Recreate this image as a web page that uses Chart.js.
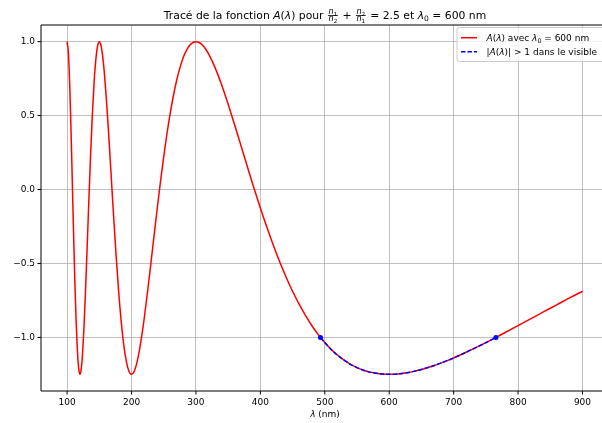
<!DOCTYPE html>
<html lang="fr">
<head>
    <meta charset="UTF-8">
    <title>Tracé de la fonction A(λ)</title>
    <script src="https://cdn.jsdelivr.net/npm/chart.js"></script>
    <style>
        html, body {
            margin: 0;
            padding: 0;
            background: #fff;
            overflow: hidden;
        }
        .frame {
            width: 602px;
            height: 423px;
            position: relative;
        }
    </style>
</head>
<body>
    <div class="frame">
        <canvas id="chart"></canvas>
    </div>
    <script>
        // wavelength (nm) and A(lambda)
        const lambdaAll = [100, 102, 104, 106, 108, 110, 112, 114, 116, 118, 120, 122, 124, 126, 128, 130,
            133, 136, 139, 142, 145, 148, 150, 152, 155, 158, 161, 164, 167, 170, 173, 176,
            180, 184, 188, 192, 196, 200, 204, 208, 212, 216, 220,
            225, 230, 235, 240, 245, 250, 255, 260, 265, 270, 275, 280, 285, 290, 295, 300,
            305, 310, 315, 320, 330, 340, 350, 360, 370, 380, 390, 400, 410, 420, 430, 440, 450,
            460, 470, 480, 490, 500, 510, 520, 530, 540, 550, 560, 570, 580, 590, 600,
            610, 620, 630, 640, 650, 660, 670, 680, 690, 700,
            720, 740, 760, 780, 800, 820, 840, 860, 880, 900];
        const aAll = [1.0, 0.924, 0.717, 0.418, 0.070, -0.285, -0.613, -0.887, -1.089, -1.210, -1.25, -1.213, -1.109, -0.950, -0.750, -0.524,
            -0.165, 0.183, 0.488, 0.730, 0.896, 0.984, 1.0, 0.985, 0.909, 0.780, 0.610, 0.412, 0.198, -0.021, -0.237, -0.442,
            -0.688, -0.893, -1.052, -1.164, -1.229, -1.25, -1.231, -1.177, -1.094, -0.987, -0.862,
            -0.688, -0.502, -0.312, -0.125, 0.055, 0.223, 0.377, 0.514, 0.634, 0.737, 0.821, 0.889, 0.939, 0.974, 0.994, 1.0,
            0.994, 0.977, 0.950, 0.914, 0.821, 0.706, 0.576, 0.438, 0.295, 0.152, 0.010, -0.125, -0.254, -0.375, -0.489, -0.593, -0.688,
            -0.774, -0.851, -0.921, -0.982, -1.035, -1.082, -1.121, -1.154, -1.182, -1.204, -1.222, -1.235, -1.243, -1.248, -1.25,
            -1.249, -1.244, -1.237, -1.228, -1.217, -1.204, -1.190, -1.174, -1.157, -1.139,
            -1.099, -1.057, -1.013, -0.967, -0.920, -0.873, -0.826, -0.780, -0.733, -0.688];

        // part of the visible range where |A| > 1
        const lambdaVis = [493.3, 500, 510, 520, 530, 540, 550, 560, 570, 580, 590, 600,
            610, 620, 630, 640, 650, 660, 670, 680, 690, 700, 720, 740, 760, 765.6];
        const aVis = [-1.0, -1.035, -1.082, -1.121, -1.154, -1.182, -1.204, -1.222, -1.235, -1.243, -1.248, -1.25,
            -1.249, -1.244, -1.237, -1.228, -1.217, -1.204, -1.190, -1.174, -1.157, -1.139, -1.099, -1.057, -1.013, -1.0];

        const lambdaEdge = [493.3, 765.6];
        const aEdge = [-1.0, -1.0];

        const xTicks = [100, 200, 300, 400, 500, 600, 700, 800, 900];
        const yTicks = [-1.0, -0.5, 0.0, 0.5, 1.0];

        const FONT = '"DejaVu Sans", sans-serif';

        const toPoints = (xs, ys) => xs.map((x, i) => ({ x: x, y: ys[i] }));

        // --- small rich-text helper for the mathtext bits (italic, subscript, fraction)
        function setFont(ctx, size, it) {
            ctx.font = (it ? 'italic ' : '') + size + 'px ' + FONT;
        }
        function runWidth(ctx, parts, size) {
            let w = 0;
            for (const p of parts) {
                if (p.frac) {
                    const fs = size * 0.75;
                    w += Math.max(runWidth(ctx, p.frac[0], fs), runWidth(ctx, p.frac[1], fs)) + size * 0.3;
                } else {
                    setFont(ctx, p.sub ? size * 0.7 : size, p.it);
                    w += ctx.measureText(p.t).width;
                }
            }
            return w;
        }
        function drawRun(ctx, parts, x, y, size) {
            for (const p of parts) {
                if (p.frac) {
                    const fs = size * 0.75;
                    const wn = runWidth(ctx, p.frac[0], fs), wd = runWidth(ctx, p.frac[1], fs);
                    const w = Math.max(wn, wd) + size * 0.3;
                    const bar = y - size * 0.33;
                    ctx.fillRect(x + size * 0.1, bar - 0.4, w - size * 0.2, 0.8);
                    drawRun(ctx, p.frac[0], x + (w - wn) / 2, bar - size * 0.12, fs);
                    drawRun(ctx, p.frac[1], x + (w - wd) / 2, bar + size * 0.12 + fs * 0.56, fs);
                    x += w;
                } else {
                    const s = p.sub ? size * 0.7 : size;
                    setFont(ctx, s, p.it);
                    ctx.fillText(p.t, x, p.sub ? y + size * 0.2 : y);
                    x += ctx.measureText(p.t).width;
                }
            }
            return x;
        }

        const n1 = [{ t: 'n', it: true }, { t: '1', sub: true }];
        const n2 = [{ t: 'n', it: true }, { t: '2', sub: true }];
        const titleParts = [
            { t: 'Tracé de la fonction ' }, { t: 'A', it: true }, { t: '(' }, { t: 'λ', it: true }, { t: ')' },
            { t: ' pour ' }, { frac: [n1, n2] }, { t: ' + ' }, { frac: [n2, n1] }, { t: ' = 2.5 et ' },
            { t: 'λ', it: true }, { t: '0', sub: true }, { t: ' = 600 nm' }
        ];
        const legendRows = [
            {
                color: '#ff0000', dash: [],
                parts: [{ t: 'A', it: true }, { t: '(' }, { t: 'λ', it: true }, { t: ')' }, { t: ' avec ' },
                    { t: 'λ', it: true }, { t: '0', sub: true }, { t: ' = 600 nm' }]
            },
            {
                color: '#0000ff', dash: [4.5, 2],
                parts: [{ t: '|' }, { t: 'A', it: true }, { t: '(' }, { t: 'λ', it: true }, { t: ')|' },
                    { t: ' > 1 dans le visible' }]
            }
        ];
        const xLabelParts = [{ t: 'λ', it: true }, { t: ' (nm)' }];

        const decor = {
            id: 'decor',
            afterDraw(chart) {
                const ctx = chart.ctx;
                const a = chart.chartArea;
                const sx = chart.scales.x, sy = chart.scales.y;
                ctx.save();

                // spines (the right one falls outside the picture)
                ctx.strokeStyle = '#000';
                ctx.lineWidth = 1;
                ctx.beginPath();
                ctx.moveTo(a.right + 2, a.top);
                ctx.lineTo(a.left, a.top);
                ctx.lineTo(a.left, a.bottom);
                ctx.lineTo(a.right + 2, a.bottom);
                ctx.stroke();

                // tick marks
                ctx.beginPath();
                xTicks.forEach(v => {
                    const px = sx.getPixelForValue(v);
                    ctx.moveTo(px, a.bottom);
                    ctx.lineTo(px, a.bottom + 3.5);
                });
                yTicks.forEach(v => {
                    const py = sy.getPixelForValue(v);
                    ctx.moveTo(a.left, py);
                    ctx.lineTo(a.left - 3.5, py);
                });
                ctx.stroke();

                ctx.fillStyle = '#000';
                ctx.textBaseline = 'alphabetic';
                ctx.textAlign = 'left';

                // title, centred on the full (uncropped) axes box
                const cx = 325;
                const tw = runWidth(ctx, titleParts, 10.8);
                drawRun(ctx, titleParts, cx - tw / 2, 19, 10.8);

                // x label
                const xw = runWidth(ctx, xLabelParts, 9);
                drawRun(ctx, xLabelParts, cx - xw / 2, 417, 9);

                // legend
                const lx = 457, ly = 27.5, lw = 160, lh = 34;
                ctx.beginPath();
                ctx.roundRect(lx, ly, lw, lh, 2.5);
                ctx.fillStyle = 'rgba(255,255,255,0.8)';
                ctx.fill();
                ctx.strokeStyle = '#cccccc';
                ctx.lineWidth = 1;
                ctx.stroke();
                legendRows.forEach((row, i) => {
                    const yc = 37.7 + i * 14;
                    ctx.beginPath();
                    ctx.setLineDash(row.dash);
                    ctx.strokeStyle = row.color;
                    ctx.lineWidth = 1.5;
                    ctx.moveTo(461, yc);
                    ctx.lineTo(477, yc);
                    ctx.stroke();
                    ctx.setLineDash([]);
                    ctx.fillStyle = '#000';
                    drawRun(ctx, row.parts, 486.5, yc + 3.3, 9);
                });
                ctx.restore();
            }
        };

        const tickFont = { family: FONT, size: 9 };

        new Chart(document.getElementById('chart'), {
            type: 'scatter',
            data: {
                datasets: [
                    {
                        label: 'edges',
                        data: toPoints(lambdaEdge, aEdge),
                        showLine: false,
                        pointRadius: 2.5,
                        pointBackgroundColor: '#0000ff',
                        pointBorderWidth: 0,
                        order: 0
                    },
                    {
                        label: '|A(λ)| > 1 dans le visible',
                        data: toPoints(lambdaVis, aVis),
                        showLine: true,
                        borderColor: '#0000ff',
                        borderWidth: 1.5,
                        borderDash: [4.5, 2],
                        pointRadius: 0,
                        cubicInterpolationMode: 'monotone',
                        order: 1
                    },
                    {
                        label: 'A(λ) avec λ0 = 600 nm',
                        data: toPoints(lambdaAll, aAll),
                        showLine: true,
                        borderColor: '#ff0000',
                        borderWidth: 1.5,
                        pointRadius: 0,
                        cubicInterpolationMode: 'monotone',
                        order: 2
                    }
                ]
            },
            options: {
                responsive: true,
                maintainAspectRatio: false,
                animation: false,
                devicePixelRatio: 1,
                layout: { autoPadding: false, padding: { top: 25, right: 0, left: 0, bottom: 0 } },
                plugins: {
                    legend: { display: false },
                    title: { display: false },
                    tooltip: { enabled: false }
                },
                scales: {
                    x: {
                        type: 'linear',
                        min: 59.5,
                        max: 930.3,
                        afterBuildTicks: axis => { axis.ticks = xTicks.map(v => ({ value: v })); },
                        afterFit: axis => { axis.height = 32; },
                        ticks: { font: tickFont, color: '#000', padding: 6, maxRotation: 0, callback: v => String(v) },
                        grid: { color: '#b0b0b0', lineWidth: 0.8, drawTicks: false },
                        border: { display: false }
                    },
                    y: {
                        min: -1.3625,
                        max: 1.1125,
                        afterBuildTicks: axis => { axis.ticks = yTicks.map(v => ({ value: v })); },
                        afterFit: axis => { axis.width = 41; },
                        ticks: {
                            font: tickFont, color: '#000', padding: 6,
                            callback: v => v.toFixed(1).replace('-', '\u2212')
                        },
                        grid: { color: '#b0b0b0', lineWidth: 0.8, drawTicks: false },
                        border: { display: false }
                    }
                }
            },
            plugins: [decor]
        });
    </script>
</body>
</html>
